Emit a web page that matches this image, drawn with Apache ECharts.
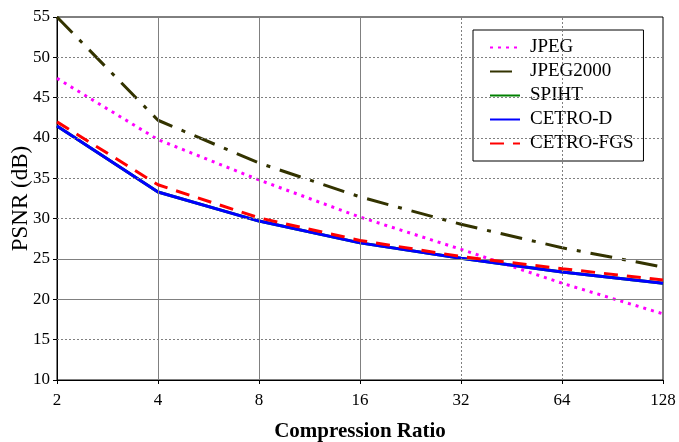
<!DOCTYPE html>
<html><head><meta charset="utf-8">
<script src="https://cdn.jsdelivr.net/npm/echarts@6/dist/echarts.min.js"></script>
<style>html,body{margin:0;padding:0;background:#fff}#c{width:679px;height:442px}</style>
</head><body><div id="c"></div>
<script>
const categories = ['2','4','8','16','32','64','128'];
const jpeg      = [47.4, 39.8, 34.8, 30.2, 26.2, 22.0, 18.2];
const jpeg2000  = [55.0, 42.2, 36.9, 32.7, 29.3, 26.4, 24.0];
const spiht     = [41.5, 33.3, 29.7, 27.0, 25.1, 23.4, 22.0];
const cetroD    = [41.5, 33.3, 29.7, 27.0, 25.1, 23.4, 22.0];
const cetroFGS  = [42.0, 34.2, 30.1, 27.3, 25.3, 23.8, 22.4];
const yTicks = [10,15,20,25,30,35,40,45,50,55];
const solidY = [20,25];
const dottedY = [15,30,35,40,45,50];
const solidX = ['4','8','16'];
const dottedX = ['32','64'];

const serif = '"Liberation Serif","DejaVu Serif",serif';
const gridSolid = {color:'#808080', width:1, type:'solid'};
const gridDot = {color:'#808080', width:1, type:[2,2]};

const markData = [];
solidY.forEach(v=>markData.push({yAxis:v, lineStyle:gridSolid}));
dottedY.forEach(v=>markData.push({yAxis:v, lineStyle:gridDot}));
solidX.forEach(v=>markData.push({xAxis:v, lineStyle:gridSolid}));
dottedX.forEach(v=>markData.push({xAxis:v, lineStyle:gridDot}));

function lineSeries(name, data, color, type, z){
  return {name, type:'line', data, symbol:'none', showSymbol:false, z,
    lineStyle:{color, width:3, type}, itemStyle:{color}};
}

const chart = echarts.init(document.getElementById('c'), null, {renderer:'canvas'});
chart.setOption({
  animation:false,
  backgroundColor:'#fff',
  grid:{left:57, right:16, top:17, bottom:62, outerBoundsMode:'none', containLabel:false,
    show:true, borderColor:'#000', borderWidth:1, backgroundColor:'transparent'},
  legend:{
    orient:'vertical', left:473, top:30, width:170,
    backgroundColor:'#fff', borderColor:'#000', borderWidth:1,
    padding:[8,10,8,16], itemGap:5, itemWidth:30, itemHeight:18,
    itemStyle:{opacity:0},
    textStyle:{fontFamily:serif, fontSize:19, color:'#000', padding:[0,0,0,5]},
    data:['JPEG','JPEG2000','SPIHT','CETRO-D','CETRO-FGS']
  },
  xAxis:{
    type:'category', data:categories, boundaryGap:false,
    name:'Compression Ratio', nameLocation:'middle', nameGap:41, nameMoveOverlap:false,
    nameTextStyle:{fontFamily:serif, fontSize:21, fontWeight:'bold', color:'#000'},
    axisLine:{lineStyle:{color:'#000', width:1}},
    axisTick:{show:true, length:4, lineStyle:{color:'#000'}},
    axisLabel:{fontFamily:serif, fontSize:17, color:'#000', margin:12},
    splitLine:{show:false}
  },
  yAxis:{
    type:'value', min:10, max:55, interval:5,
    name:'PSNR (dB)', nameLocation:'middle', nameGap:25, nameMoveOverlap:false,
    nameTextStyle:{fontFamily:serif, fontSize:23, fontWeight:'normal', color:'#000'},
    axisLine:{show:true, lineStyle:{color:'#000', width:1}},
    axisTick:{show:true, length:4, lineStyle:{color:'#000'}},
    axisLabel:{fontFamily:serif, fontSize:17, color:'#000', margin:7},
    splitLine:{show:false}
  },
  series:[
    {name:'grid', type:'line', data:[], silent:true, z:1,
      markLine:{silent:true, symbol:['none','none'], label:{show:false}, animation:false, data:markData}},
    lineSeries('JPEG', jpeg, '#ff00ff', [3,5], 3),
    lineSeries('JPEG2000', jpeg2000, '#333300', [22,10,4,10], 3),
    lineSeries('SPIHT', spiht, '#008000', 'solid', 2),
    lineSeries('CETRO-D', cetroD, '#0000ff', 'solid', 4),
    lineSeries('CETRO-FGS', cetroFGS, '#ff0000', [14,9], 5)
  ]
});
</script></body></html>
